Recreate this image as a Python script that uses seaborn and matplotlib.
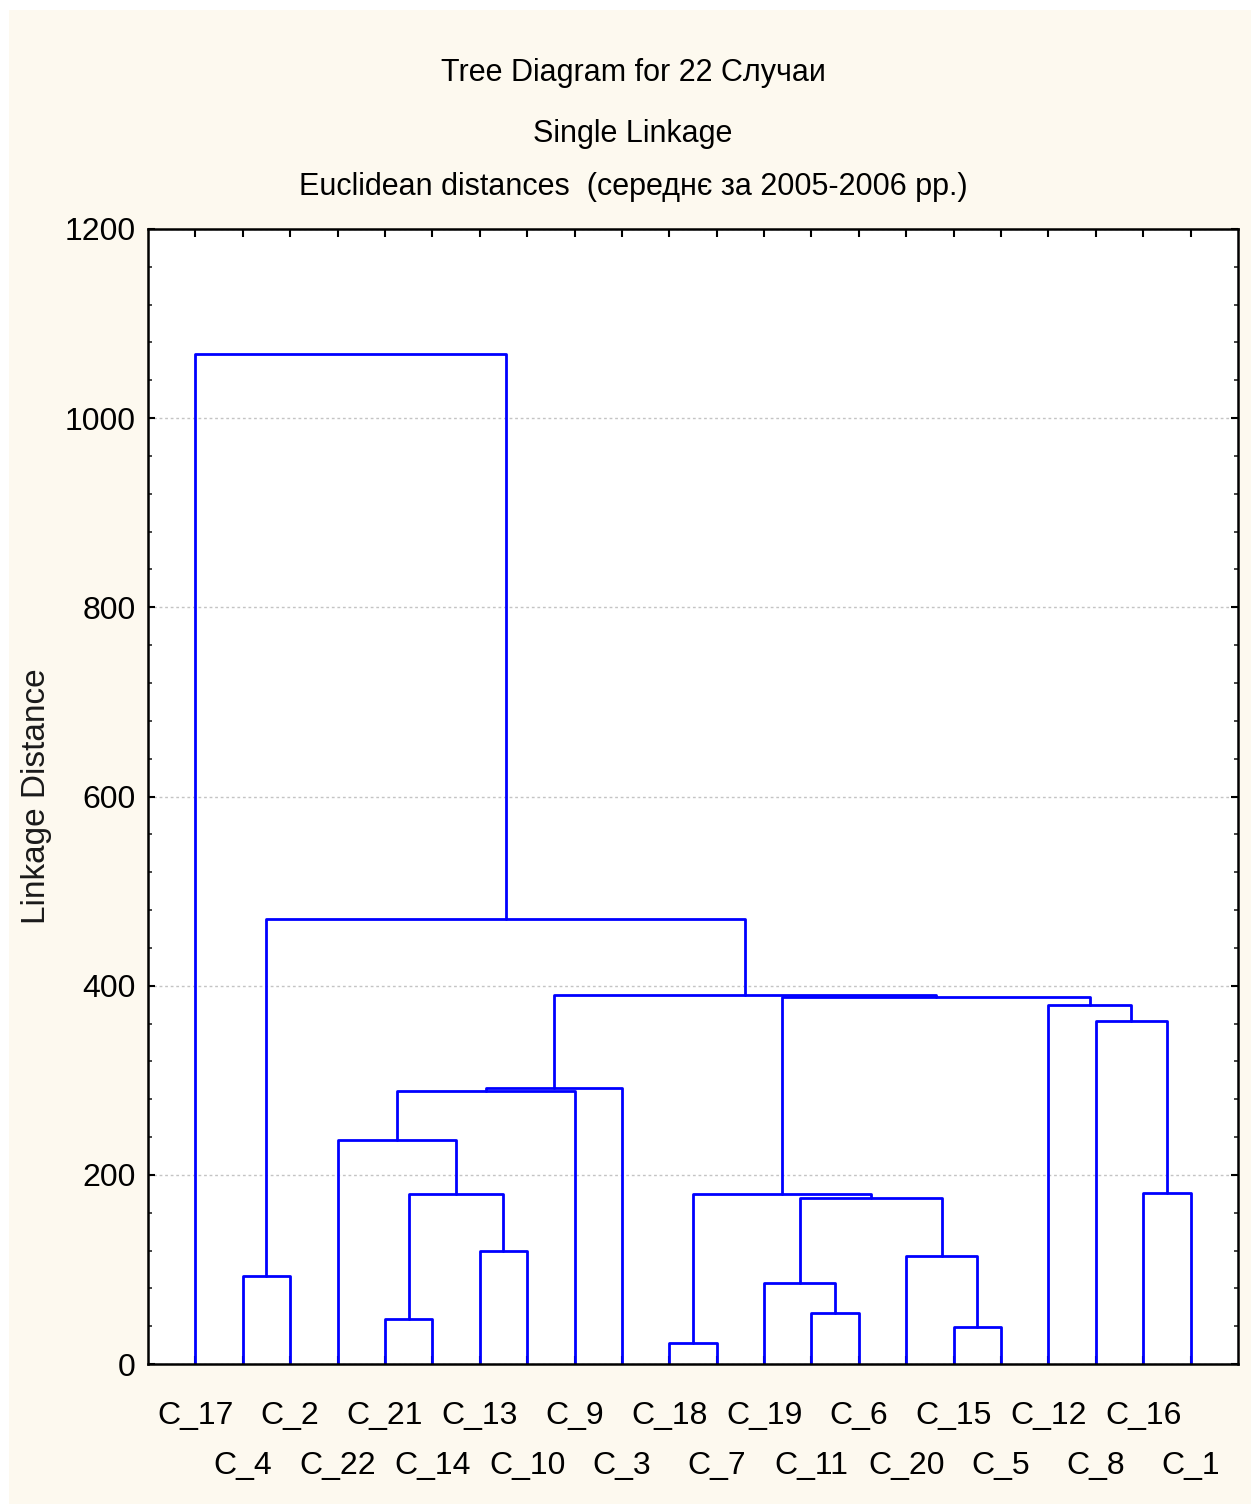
import numpy as np
import pandas as pd
import seaborn as sns
import matplotlib.pyplot as plt
from matplotlib.patches import Rectangle
from matplotlib.ticker import MultipleLocator

# leaf order as drawn, left to right
leaves = ["C_17", "C_4", "C_2", "C_22", "C_21", "C_14", "C_13", "C_10", "C_9", "C_3", "C_18",
          "C_7", "C_19", "C_11", "C_6", "C_20", "C_15", "C_5", "C_12", "C_8", "C_16", "C_1"]

# single linkage joins; "mK" refers to the cluster made by join K
merge_left = ["C_18", "C_15", "C_21", "C_11", "C_19", "C_4", "C_20", "C_13", "m4", "m2", "m0",
              "C_16", "C_22", "m12", "m13", "C_8", "C_12", "m10", "m14", "m5", "C_17"]
merge_right = ["C_7", "C_5", "C_14", "C_6", "m3", "C_2", "m1", "C_10", "m6", "m7", "m8",
               "C_1", "m9", "C_9", "C_3", "m11", "m15", "m16", "m17", "m18", "m19"]
merge_height = [22, 39, 48, 54, 86, 93, 114, 120, 175, 180, 180,
                181, 237, 289, 292, 363, 380, 388.5, 390.5, 470, 1068]

title_lines = ["Tree Diagram for 22 Случаи",
               "Single Linkage",
               "Euclidean distances  (середнє за 2005-2006 рр.)"]

# build the U-shaped links of the tree
pos = {name: i + 1 for i, name in enumerate(leaves)}
top = {name: 0.0 for name in leaves}
rows = []
for k, (a, b, h) in enumerate(zip(merge_left, merge_right, merge_height)):
    xa, xb = pos[a], pos[b]
    for x, y in [(xa, top[a]), (xa, h), (xb, h), (xb, top[b])]:
        rows.append({"link": k, "x": x, "y": y})
    pos[f"m{k}"] = (xa + xb) / 2
    top[f"m{k}"] = h
segs = pd.DataFrame(rows)

sns.set_theme(style="white")
plt.rcParams["font.family"] = ["Liberation Sans Narrow", "Liberation Sans", "DejaVu Sans"]

fig = plt.figure(figsize=(12.51, 15.04), dpi=100, facecolor="white")
fig.add_artist(Rectangle((9 / 1251, 0), 1, 1 - 10 / 1504, transform=fig.transFigure,
                         facecolor="#fdf9ef", edgecolor="none", zorder=-1))
ax = fig.add_axes([148 / 1251, 1 - 1364 / 1504, 1090 / 1251, 1135 / 1504])
ax.set_facecolor("white")

sns.lineplot(data=segs, x="x", y="y", units="link", estimator=None, sort=False,
             color="#0000ff", linewidth=2.0, ax=ax, legend=False)

ax.set_xlim(0, 23)
ax.set_ylim(0, 1200)
ax.set_yticks(np.arange(0, 1201, 200))
ax.yaxis.set_minor_locator(MultipleLocator(40))
ax.set_xticks(np.arange(1, len(leaves) + 1))
ax.set_xticklabels(leaves)
ax.set_xlabel("")
ax.set_ylabel("Linkage Distance", family=["Liberation Sans", "DejaVu Sans"],
              fontsize=24, color="#1a1a1a")
ax.yaxis.set_label_coords(-0.088, 0.5)

ax.grid(axis="y", which="major", linestyle=(0, (2, 2)), color="#c4c4c4", linewidth=1)
ax.grid(axis="x", visible=False)
for s in ax.spines.values():
    s.set_visible(True)
    s.set_color("black")
    s.set_linewidth(1.8)

ax.tick_params(axis="y", which="major", direction="in", left=True, right=True,
               length=5, width=1.5, labelsize=23, pad=9, colors="black")
ax.tick_params(axis="y", which="minor", direction="in", left=True, right=True,
               length=3, width=1.2)
ax.tick_params(axis="x", which="major", direction="in", bottom=True, top=True,
               length=6, width=1.5, labelsize=23, pad=27, colors="black")
for i, t in enumerate(ax.xaxis.get_major_ticks()):
    if i % 2 == 1:
        t.set_pad(63)

for txt, yb in zip(title_lines, [81, 142, 195]):
    fig.text(633 / 1251, 1 - yb / 1504, txt, ha="center", va="baseline",
             fontsize=22, color="black")

fig.savefig("out.png", dpi=100, facecolor=fig.get_facecolor())
